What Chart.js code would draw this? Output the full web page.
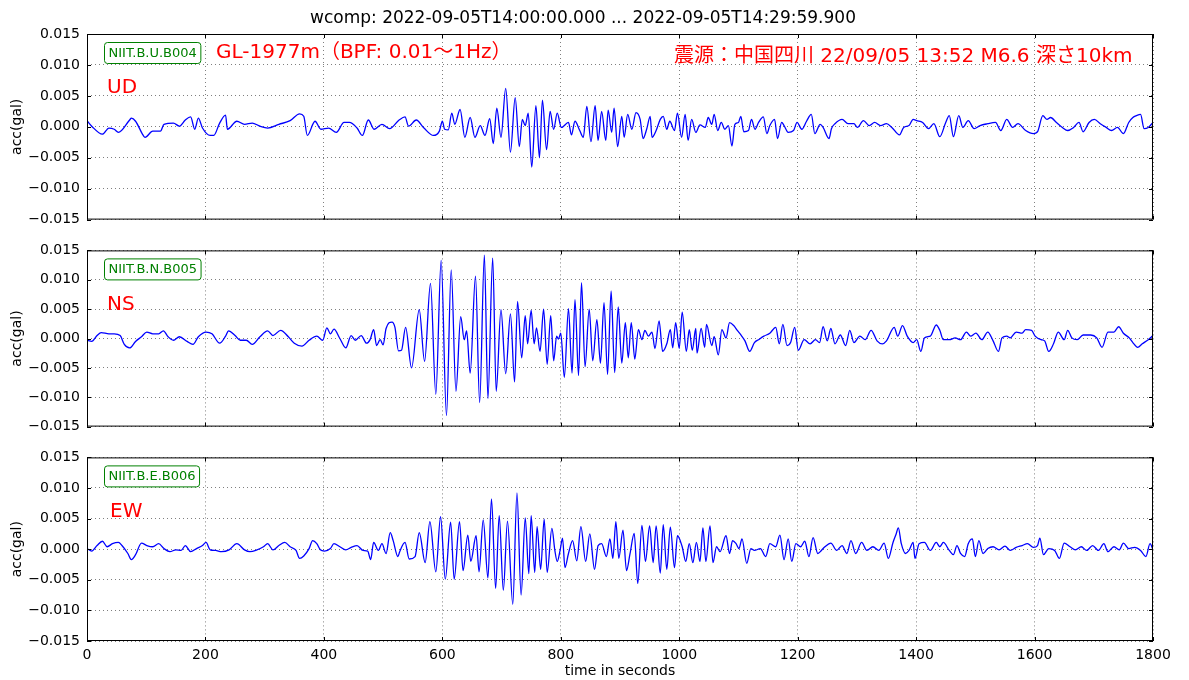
<!DOCTYPE html>
<html>
<head>
<meta charset="utf-8">
<style>
body{margin:0;background:#fff;width:1189px;height:680px;position:relative;overflow:hidden}
canvas{position:absolute;left:0}
</style>
<script src="https://cdn.jsdelivr.net/npm/chart.js@4.4.1/dist/chart.umd.min.js"></script>
</head>
<body>
<canvas id="c1" width="1189" height="235" style="top:0"></canvas>
<canvas id="c2" width="1189" height="207" style="top:235px"></canvas>
<canvas id="c3" width="1189" height="238" style="top:442px"></canvas>
<script>
// traces: [time in s, acc in 0.001 gal]
var udTrace = [[0,1.0],[8,0.1],[26,-1.2],[37,-0.2],[46,-0.4],[53,-0.9],[72,1.1],[75,1.4],[82,0.9],[95,-1.4],[98,-1.7],[111,-0.7],[124,-0.7],[130,0.4],[146,0.6],[156,0.1],[166,1.1],[175,1.6],[182,-0.4],[188,1.4],[195,-0.2],[208,-1.4],[214,-1.4],[224,0.6],[234,1.9],[237,-0.4],[253,0.9],[266,0.4],[279,0.6],[292,0.1],[305,-0.2],[324,0.4],[343,1.0],[359,2.1],[366,1.7],[372,-1.4],[385,0.9],[395,-0.4],[408,-0.2],[421,-0.9],[434,0.7],[443,0.7],[456,-0.2],[465,-1.4],[475,1.1],[485,-0.4],[498,0.4],[511,-0.3],[527,1.1],[537,1.6],[543,0.1],[556,1.1],[569,-0.2],[585,-1.4],[595,-0.7],
  [600,0.9],[604,-0.4],[610,-0.5],[616,2.2],[621,0.4],[630,2.8],[638,-1.7],[647,1.5],[655,-1.7],[664,0.2],[672,-1.4],[680,1.3],[686,-2.7],[692,3.0],[699,-1.7],[707,6.2],[715,-4.1],[723,4.7],[730,-3.2],[735,1.2],[740,0.2],[745,2.2],[751,-6.5],[758,3.4],[764,-5.0],[769,4.3],[776,-3.7],[782,2.5],[788,-0.4],[794,2.2],[801,-0.1],[813,0.7],[818,-1.3],[824,0.9],[832,-0.6],[838,-1.7],[844,3.3],[851,-2.4],[858,3.4],[863,-2.2],[869,2.5],[876,-2.2],[880,2.7],[886,-0.9],[890,3.0],[896,-3.2],[903,1.7],[907,-1.7],[913,2.0],[920,-0.4],[927,2.3],[934,1.2],
  [939,-1.9],[945,-0.4],[951,1.7],[954,-1.7],[961,-0.6],[968,1.2],[973,1.7],[979,-0.4],[984,0.9],[992,-0.6],[997,2.2],[1004,-1.7],[1010,2.0],[1015,-2.2],[1021,1.2],[1028,-0.9],[1035,0.3],[1044,-0.1],[1049,1.5],[1055,0.4],[1059,2.0],[1065,-0.6],[1071,0.7],[1077,-0.4],[1083,0.2],[1089,-3.1],[1094,0.4],[1100,0.7],[1104,1.7],[1109,-0.8],[1117,-0.6],[1122,1.2],[1128,-0.4],[1134,0.7],[1142,1.6],[1148,-1.1],[1153,0.2],[1161,1.2],[1166,-1.9],[1173,0.7],[1177,0.2],[1184,-0.9],[1193,-0.6],[1199,0.7],[1207,-0.4],[1215,0.9],[1223,2.0],[1229,-1.1],[1238,0.4],
  [1243,-0.1],[1253,-1.9],[1257,-0.3],[1263,0.5],[1275,1.2],[1285,0.5],[1295,0.5],[1301,-0.1],[1311,1.0],[1321,0.2],[1330,0.7],[1340,0.2],[1350,0.5],[1359,-0.1],[1372,-1.3],[1379,-0.1],[1388,0.2],[1395,1.2],[1401,1.0],[1411,0.7],[1421,-0.3],[1430,0.5],[1440,-1.6],[1450,0.7],[1456,1.8],[1463,-1.6],[1472,1.8],[1479,-0.1],[1488,1.0],[1498,-0.3],[1508,0.2],[1521,0.5],[1534,0.7],[1543,-0.6],[1553,1.2],[1563,-0.1],[1572,0.5],[1585,-0.6],[1598,-1.1],[1605,-0.8],[1614,1.8],[1621,1.2],[1627,1.5],[1637,0.7],[1647,-0.1],[1656,-0.6],[1666,-0.1],[1675,0.7],[1682,-0.8],[1692,0.7],[1701,1.2],[1711,0.5],[1721,-0.1],[1730,-0.6],[1740,-0.1],[1750,-1.1],[1759,0.7],[1766,1.5],[1772,1.8],[1779,2.0],[1785,-0.3],[1792,-0.1],[1800,0.7]];

var nsTrace = [[0,-0.3],[8,-0.5],[17,0.5],[24,1.0],[37,0.8],[46,0.8],[56,0.5],[63,-1.0],[72,-1.6],[82,-0.5],[92,0.3],[101,1.1],[111,0.8],[121,0.8],[129,1.3],[137,0.3],[146,-0.3],[156,0.3],[169,-0.5],[179,-1.0],[188,0.3],[201,1.1],[211,0.8],[224,-0.8],[234,0.4],[239,1.3],[250,0.5],[259,-0.3],[269,-0.3],[279,-1.0],[292,0.3],[305,1.3],[314,0.5],[327,1.4],[340,0.3],[350,-0.8],[363,-1.3],[375,-0.3],[388,0.4],[398,-0.3],[405,1.8],[411,0.8],[417,1.6],[427,0.0],[437,-1.6],[446,0.5],[453,-0.3],[463,0.5],[472,-0.8],
  [478,-0.2],[484,1.5],[489,-1.2],[495,-0.2],[500,-1.1],[505,1.7],[515,2.8],[520,1.9],[526,-2.1],[531,-2.0],[538,1.9],[548,-5.0],[561,4.9],[570,-3.9],[580,9.4],[589,-9.5],[598,13.3],[607,-13.1],[615,11.7],[623,-9.0],[631,3.7],[637,-0.2],[641,1.3],[647,-5.9],[656,10.6],[663,-10.9],[671,14.2],[677,-10.2],[685,13.7],[691,-9.0],[699,4.9],[707,-6.0],[715,4.2],[722,-7.4],[727,6.3],[734,-3.3],[740,3.9],[744,-0.9],[750,4.8],[755,-0.9],[759,1.8],[765,-2.2],
  [771,5.0],[777,-4.4],[783,3.9],[788,-3.8],[793,0.4],[796,-0.1],[800,0.9],[806,-6.6],[813,5.1],[819,-5.9],[824,6.6],[830,-6.3],[835,9.5],[841,-4.8],[848,5.0],[854,-3.8],[861,3.2],[867,-4.2],[873,6.1],[879,-6.1],[885,8.1],[891,-5.8],[897,5.4],[903,-4.2],[909,2.7],[914,-3.3],[919,2.7],[925,-3.5],[931,1.5],[937,-0.2],[942,1.4],[948,0.4],[954,1.1],[959,-1.7],[966,3.0],[972,-2.2],[979,-0.9],[985,1.5],[989,-1.6],[994,2.7],[1000,-1.7],[1005,4.5],[1012,-2.2],[1017,1.5],[1022,-2.0],[1028,1.7],
  [1030,-2.5],[1037,1.7],[1043,-1.5],[1046,2.4],[1055,-1.2],[1059,0.3],[1066,-2.8],[1072,1.5],[1079,0.1],[1085,2.7],[1092,2.2],[1098,1.4],[1105,0.5],[1111,-0.4],[1119,-2.2],[1127,-0.7],[1134,-0.2],[1143,0.4],[1153,0.9],[1163,1.9],[1169,-0.9],[1175,2.4],[1182,-1.2],[1188,-0.7],[1195,1.9],[1201,-2.0],[1211,-0.2],[1221,-0.9],[1230,-0.2],[1237,-0.7],[1243,2.0],[1250,-0.4],[1256,1.7],[1263,-0.9],[1272,0.6],[1281,-1.2],[1288,1.4],[1295,-0.7],[1305,0.4],[1314,-0.2],[1324,1.4],[1334,-0.4],[1343,-0.9],[1350,-0.4],[1363,1.9],[1369,0.4],[1377,2.2],[1385,0.4],[1395,-0.7],[1401,-0.2],[1408,-2.2],[1414,0.1],[1424,0.4],[1434,2.3],[1440,1.4],[1446,-0.2],[1456,-0.2],[1466,0.1],[1475,-0.2],[1485,1.1],[1492,0.4],[1501,0.9],[1511,-0.2],[1521,1.1],[1530,-0.4],[1539,-2.2],[1545,0.1],[1553,0.4],[1559,0.1],[1569,1.1],[1579,0.9],[1585,1.5],[1595,1.4],[1601,0.4],[1611,-0.2],[1617,-0.4],[1624,-2.2],[1632,-0.9],[1640,1.1],[1650,-0.2],[1656,1.4],[1663,0.1],[1672,-0.2],[1682,0.6],[1695,0.6],[1705,0.1],[1714,-1.5],[1724,1.1],[1734,1.1],[1742,2.0],[1750,0.9],[1760,0.1],[1766,-0.7],[1774,-1.5],[1782,-0.9],[1792,-0.2],[1800,0.5]];

var ewTrace = [[0,0.1],[8,-0.3],[17,0.6],[26,1.3],[34,0.4],[43,0.9],[53,1.1],[59,0.6],[69,-0.7],[75,-1.7],[82,-0.9],[92,1.0],[101,0.6],[111,0.4],[121,0.9],[130,0.1],[140,-0.4],[150,-0.1],[159,-0.2],[166,0.6],[175,-0.4],[185,0.1],[195,0.6],[201,1.1],[208,-0.1],[217,-0.2],[227,-0.4],[240,-0.1],[253,0.9],[266,-0.1],[275,-0.4],[285,-0.2],[298,0.4],[305,0.9],[314,-0.1],[324,0.6],[334,1.1],[343,0.4],[353,-0.2],[359,-1.5],[366,-1.1],[375,0.1],[381,1.4],[388,0.9],[394,-0.1],[401,-0.3],[411,0.1],[417,0.9],[427,0.4],[437,-0.1],[446,0.3],[456,0.6],[466,-0.2],[474,-0.3],[479,-1.7],[484,1.1],[492,-0.2],[498,0.9],[505,-0.7],[512,2.7],[517,1.4],[525,-1.2],
  [528,-0.4],[537,1.1],[544,-1.6],[554,-1.2],[561,2.7],[571,-2.2],[579,4.5],[589,-3.7],[597,5.3],[605,-4.9],[614,4.4],[620,-4.9],[629,4.5],[635,-3.5],[643,2.3],[648,-2.0],[657,2.2],[662,-3.7],[669,4.8],[677,-4.7],[683,8.2],[690,-6.4],[696,5.5],[703,-6.7],[710,4.6],[719,-9.0],[726,9.2],[733,-7.5],[740,5.1],[746,-4.0],[750,5.5],[756,-3.8],[760,3.7],[766,-3.3],[772,4.9],[777,-3.8],[785,3.4],[790,-0.2],[794,-2.0],[799,-0.1],[803,1.8],[807,-3.0],[813,-0.7],[820,1.4],[827,-1.9],[834,3.7],[842,-2.0],[849,2.5],
  [857,-3.3],[863,0.6],[869,0.9],[877,-1.2],[883,1.7],[888,-1.5],[893,4.5],[898,-1.5],[905,3.1],[911,-3.5],[917,-0.7],[924,2.6],[930,-5.6],[937,3.9],[943,-2.0],[950,3.8],[956,-2.2],[961,3.8],[968,-3.9],[973,4.0],[979,-3.3],[985,3.6],[992,-3.0],[997,2.2],[1005,0.4],[1011,-2.0],[1017,0.9],[1023,-2.2],[1029,1.1],[1035,-2.0],[1040,3.5],[1045,-2.0],[1052,3.8],[1057,-2.2],[1063,0.4],[1069,-0.4],[1079,2.2],[1085,-0.7],[1090,1.4],[1096,0.9],[1101,0.1],[1106,1.7],[1114,-2.3],[1121,0.1],[1127,-0.2],[1137,0.1],[1146,-1.2],[1153,0.9],[1163,0.4],[1170,2.3],[1177,-1.7],[1184,1.7],[1190,-2.0],[1197,0.9],[1205,0.4],[1212,1.3],[1219,-1.2],[1226,1.9],[1234,-0.7],[1240,-0.2],[1246,0.4],[1256,1.0],[1266,-0.2],[1275,0.6],[1283,-0.7],[1290,1.4],[1298,-0.7],[1308,1.1],[1317,-0.2],[1327,0.4],[1337,-0.2],[1346,1.0],[1353,-1.5],[1361,1.1],[1366,2.4],[1370,3.5],[1375,0.9],[1382,-0.7],[1388,-0.2],[1395,1.1],[1398,-1.5],[1405,0.9],[1414,1.1],[1424,-0.2],[1434,1.1],[1440,0.4],[1446,1.1],[1456,-0.2],[1463,-0.9],[1469,0.6],[1475,-0.7],[1482,-1.2],[1488,0.9],[1495,1.7],[1500,-1.2],[1506,1.4],[1513,-0.7],[1521,0.1],[1530,0.4],[1540,-0.1],[1550,0.5],[1559,-0.2],[1569,0.3],[1579,0.6],[1588,0.9],[1598,0.3],[1605,0.6],[1609,1.8],[1615,-0.9],[1624,0.1],[1634,-0.2],[1642,-1.5],[1650,1.0],[1660,0.4],[1669,-0.1],[1679,0.4],[1688,-0.2],[1698,0.6],[1708,-0.2],[1717,0.9],[1724,-0.4],[1734,0.4],[1743,-0.1],[1750,1.0],[1759,0.1],[1769,0.3],[1779,-0.2],[1788,-1.2],[1795,0.9],[1800,-0.1]];

var stations = ["NIIT.B.U.B004", "NIIT.B.N.B005", "NIIT.B.E.B006"];
var components = ["UD", "NS", "EW"];
var xTicks = [0, 200, 400, 600, 800, 1000, 1200, 1400, 1600, 1800];
var yTicks = [-0.015, -0.010, -0.005, 0, 0.005, 0.010, 0.015];

var titleText = "wcomp: 2022-09-05T14:00:00.000 ... 2022-09-05T14:29:59.900";
var filterText = "GL-1977m（BPF: 0.01～1Hz）";
var quakeText = "震源：中国四川 22/09/05 13:52 M6.6 深さ10km";

var FONT = "'DejaVu Sans', 'Noto Sans CJK JP', sans-serif";
Chart.defaults.font.family = FONT;
Chart.defaults.font.size = 14;
Chart.defaults.color = '#000';

function toPoints(trace) {
    return trace.map(function (p) { return { x: p[0], y: p[1] / 1000 }; });
}

var panelText = {
    id: 'panelText',
    afterDraw: function (chart, args, o) {
        var ctx = chart.ctx, a = chart.chartArea;
        ctx.save();
        // frame + inward ticks
        ctx.strokeStyle = '#000';
        ctx.lineWidth = 1;
        ctx.strokeRect(a.left + 0.5, a.top + 0.5, a.right - a.left - 1, a.bottom - a.top - 1);
        ctx.beginPath();
        chart.scales.x.ticks.forEach(function (t) {
            var px = Math.round(chart.scales.x.getPixelForValue(t.value)) + 0.5;
            ctx.moveTo(px, a.top); ctx.lineTo(px, a.top + 4);
            ctx.moveTo(px, a.bottom); ctx.lineTo(px, a.bottom - 4);
        });
        chart.scales.y.ticks.forEach(function (t) {
            var py = Math.round(chart.scales.y.getPixelForValue(t.value)) + 0.5;
            ctx.moveTo(a.left, py); ctx.lineTo(a.left + 4, py);
            ctx.moveTo(a.right, py); ctx.lineTo(a.right - 4, py);
        });
        ctx.stroke();

        // station box
        ctx.font = "13px " + FONT;
        ctx.textBaseline = 'middle';
        ctx.textAlign = 'left';
        var w = ctx.measureText(o.station).width;
        var bx = a.left + 17, by = a.top + 8, bw = w + 8, bh = 21;
        ctx.beginPath();
        ctx.roundRect(bx + 0.5, by + 0.5, bw, bh, 3);
        ctx.fillStyle = '#fff';
        ctx.fill();
        ctx.strokeStyle = 'green';
        ctx.stroke();
        ctx.fillStyle = 'green';
        ctx.fillText(o.station, bx + 4.5, by + bh / 2 + 1);

        // component
        ctx.fillStyle = '#ff0000';
        ctx.font = "20px " + FONT;
        ctx.fillText(o.comp, a.left + o.compX, a.top + 54);

        if (o.top) {
            ctx.font = "20px " + FONT;
            ctx.fillText(filterText, 216, a.top + 19);
            ctx.fillText(quakeText, 674, a.top + 23);
            ctx.fillStyle = '#000';
            ctx.font = "17px " + FONT;
            ctx.textAlign = 'center';
            ctx.fillText(titleText, 583, 19);
        }
        if (o.bottom) {
            ctx.fillStyle = '#000';
            ctx.font = "14px " + FONT;
            ctx.textAlign = 'center';
            ctx.fillText('time in seconds', (a.left + a.right) / 2, 671 - 442);
        }

        // y label
        ctx.fillStyle = '#000';
        ctx.font = "14px " + FONT;
        ctx.textAlign = 'center';
        ctx.translate(17, (a.top + a.bottom) / 2);
        ctx.rotate(-Math.PI / 2);
        ctx.fillText('acc(gal)', 0, 0);
        ctx.restore();
    }
};

function panel(id, trace, idx, padTop, padBottom, bottom) {
    var grid = {
        color: 'rgba(0,0,0,0.5)',
        lineWidth: 1,
        drawTicks: false
    };
    var border = { display: false, dash: [1, 3] };
    return new Chart(document.getElementById(id), {
        type: 'line',
        data: {
            datasets: [{
                data: toPoints(trace),
                borderColor: '#0000ff',
                borderWidth: 1.3,
                pointRadius: 0,
                cubicInterpolationMode: 'monotone',
                fill: false
            }]
        },
        options: {
            responsive: false,
            animation: false,
            events: [],
            layout: { padding: { left: 0, right: 36, top: padTop, bottom: padBottom } },
            plugins: {
                legend: { display: false },
                tooltip: { enabled: false },
                panelText: { station: stations[idx], comp: components[idx], compX: idx === 2 ? 23 : 20, top: idx === 0, bottom: bottom }
            },
            scales: {
                x: {
                    type: 'linear',
                    min: xTicks[0],
                    max: xTicks[xTicks.length - 1],
                    afterBuildTicks: function (s) { s.ticks = xTicks.map(function (v) { return { value: v }; }); },
                    afterFit: function (s) { s.height = bottom ? 39 : 0; },
                    grid: grid,
                    border: border,
                    ticks: {
                        display: bottom, padding: 6, maxRotation: 0, autoSkip: false,
                        callback: function (v) { return String(v); }
                    }
                },
                y: {
                    min: yTicks[0],
                    max: yTicks[yTicks.length - 1],
                    afterBuildTicks: function (s) { s.ticks = yTicks.map(function (v) { return { value: v }; }); },
                    afterFit: function (s) { s.width = 87; },
                    grid: grid,
                    border: border,
                    ticks: {
                        padding: 7,
                        callback: function (v) { return Number(v).toFixed(3).replace('-', '\u2212'); }
                    }
                }
            }
        },
        plugins: [panelText]
    });
}

panel('c1', udTrace, 0, 34, 8, false);
panel('c2', nsTrace, 1, 7, 8, false);
panel('c3', ewTrace, 2, 7, 0, true);
</script>
</body>
</html>
